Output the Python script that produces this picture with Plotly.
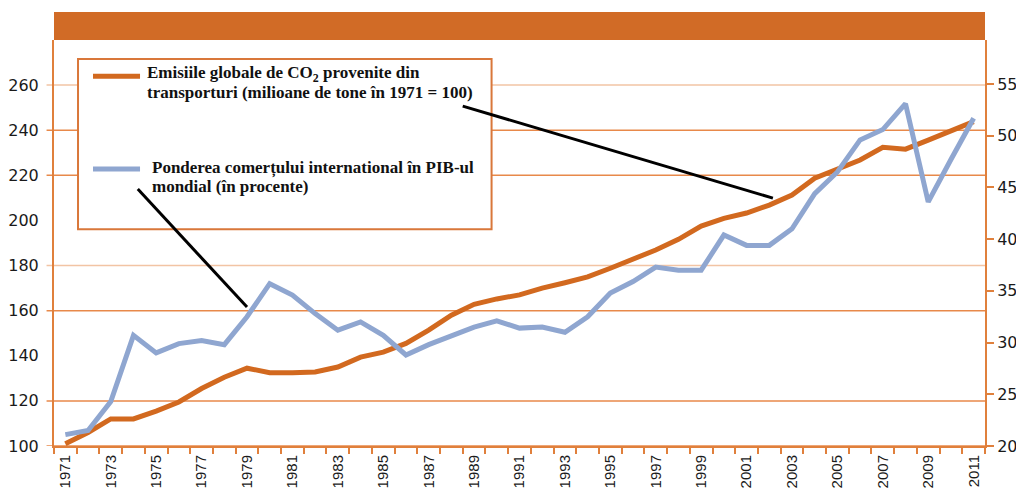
import plotly.graph_objects as go

years = list(range(1971, 2012))
co2_transport = [101, 106, 112, 112, 115.5, 119.5, 125.5, 130.5, 134.5, 132.5,
                 132.5, 132.8, 135, 139.4, 141.6, 145.5, 151.4, 158, 162.8, 165.2,
                 167, 170, 172.4, 175, 178.8, 182.8, 186.9, 191.6, 197.5, 200.9,
                 203.3, 206.8, 211.3, 218.7, 222.6, 226.8, 232.4, 231.6, 235.6, 240, 243.8]
trade_share = [21.1, 21.5, 24.3, 30.7, 29.0, 29.9, 30.2, 29.8, 32.5, 35.7,
               34.6, 32.8, 31.2, 32.0, 30.7, 28.8, 29.8, 30.6, 31.5, 32.1,
               31.4, 31.5, 31.0, 32.5, 34.8, 35.9, 37.3, 37.0, 37.0, 40.4,
               39.4, 39.4, 41.0, 44.4, 46.5, 49.6, 50.6, 53.1, 43.6, 47.7, 51.7]
label_years = list(range(1971, 2012, 2))
left_ticks = list(range(100, 261, 20))
right_ticks = list(range(20, 56, 5))
grid_dark = [100, 120, 160, 220, 240]
grid_light = [180, 260]
legend_lines_co2 = ["Emisiile globale de CO<sub>2</sub> provenite din",
                    "transporturi (milioane de tone în 1971 = 100)"]
legend_lines_trade = ["Ponderea comerțului international în PIB-ul",
                      "mondial (în procente)"]

ORANGE = "#D2691F"
BLUE = "#8FA6D0"
AXIS = "#E0803C"
GRID_DARK = "#E8894A"
GRID_LIGHT = "#F2C4A4"

fig = go.Figure()
fig.add_trace(go.Scatter(x=years, y=co2_transport, mode="lines",
                         line=dict(color=ORANGE, width=5), yaxis="y",
                         name="Emisiile globale de CO2", showlegend=False))
fig.add_trace(go.Scatter(x=years, y=trade_share, mode="lines",
                         line=dict(color=BLUE, width=5), yaxis="y2",
                         name="Ponderea comerțului", showlegend=False))

shapes = []
for v in grid_dark:
    shapes.append(dict(type="line", xref="paper", yref="y", x0=-0.008, x1=1, y0=v, y1=v,
                       line=dict(color=GRID_DARK, width=1.5), layer="below"))
for v in grid_light:
    shapes.append(dict(type="line", xref="paper", yref="y", x0=-0.008, x1=1, y0=v, y1=v,
                       line=dict(color=GRID_LIGHT, width=1.5), layer="below"))
# header bar
shapes.append(dict(type="rect", xref="paper", yref="paper", x0=0, x1=1, y0=1.0, y1=1.069,
                   fillcolor="#D16B26", line=dict(width=0), layer="above"))
# legend box
shapes.append(dict(type="rect", xref="paper", yref="paper", x0=0.0258, x1=0.470,
                   y0=0.534, y1=0.953, fillcolor="white",
                   line=dict(color="#D9773A", width=2), layer="above"))
shapes.append(dict(type="line", xref="paper", yref="paper", x0=0.0419, x1=0.0924,
                   y0=0.911, y1=0.911, line=dict(color=ORANGE, width=5), layer="above"))
shapes.append(dict(type="line", xref="paper", yref="paper", x0=0.0419, x1=0.0924,
                   y0=0.682, y1=0.682, line=dict(color=BLUE, width=5), layer="above"))
# leader lines
shapes.append(dict(type="line", xref="x", yref="y", x0=1988.5, y0=250.7, x1=2002.16, y1=209.9,
                   line=dict(color="black", width=3), layer="above"))
shapes.append(dict(type="line", xref="x", yref="y", x0=1974.19, y0=213.9, x1=1979.0, y1=161.6,
                   line=dict(color="black", width=3), layer="above"))

legend_font = dict(family="Liberation Serif, Times New Roman, serif", size=17, color="#111")
annotations = []
for txt, x, y in [(legend_lines_co2[0], 0.0977, 0.917), (legend_lines_co2[1], 0.0977, 0.870),
                  (legend_lines_trade[0], 0.103, 0.685), (legend_lines_trade[1], 0.103, 0.638)]:
    annotations.append(dict(xref="paper", yref="paper", x=x, y=y, xanchor="left",
                            yanchor="middle", align="left", showarrow=False,
                            font=legend_font, text="<b>" + txt + "</b>"))

tick_font = dict(family="DejaVu Sans, Verdana, sans-serif", size=16, color="#1a1a1a")

fig.update_layout(
    width=1024, height=490,
    margin=dict(l=46, r=47, t=32, b=52),
    paper_bgcolor="white", plot_bgcolor="white",
    shapes=shapes, annotations=annotations,
    xaxis=dict(range=[1970.5, 2011.5], tickvals=label_years, automargin=False,
               ticktext=[str(y) for y in label_years], tickangle=-90,
               ticks="outside", ticklen=1, tickcolor="rgba(0,0,0,0)",
               tickfont=dict(family="Liberation Sans Narrow, Arial Narrow, Liberation Sans, sans-serif",
                             size=15, color="#1a1a1a"),
               showgrid=False, zeroline=False,
               showline=True, linecolor=AXIS, linewidth=2,
               minor=dict(tickmode="linear", tick0=1970.5, dtick=1, ticks="outside",
                          ticklen=6, tickcolor=AXIS, tickwidth=1.5, showgrid=False)),
    yaxis=dict(range=[100, 280], tickvals=left_ticks, ticks="", tickfont=tick_font,
               automargin=False,
               showgrid=False, zeroline=False, showline=True, linecolor=AXIS, linewidth=2,
               ticklabelstandoff=10),
    yaxis2=dict(range=[20, 59.26], tickvals=right_ticks, overlaying="y", side="right",
                automargin=False,
                ticks="outside", ticklen=7, tickcolor=AXIS, tickwidth=1.5, tickfont=tick_font,
                showgrid=False, zeroline=False, showline=True, linecolor=AXIS, linewidth=2),
)

fig.write_html("out.html")
